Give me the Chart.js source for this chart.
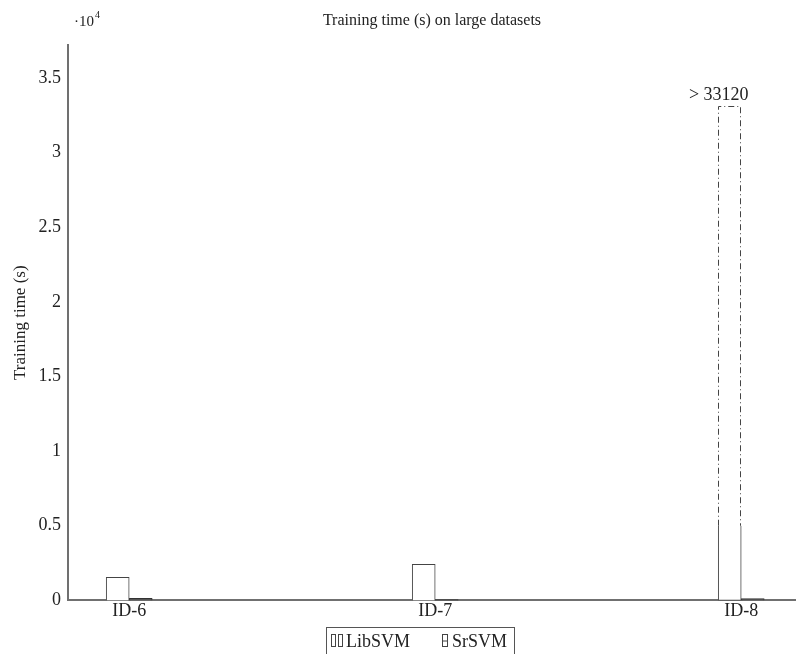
<!DOCTYPE html>
<html>
<head>
<meta charset="utf-8">
<script src="https://cdn.jsdelivr.net/npm/chart.js@4"></script>
<style>
  html, body { margin: 0; padding: 0; background: #fff; }
  #wrap { width: 796px; height: 654px; }
</style>
</head>
<body>
<div id="wrap"><canvas id="trainChart"></canvas></div>
<script>
// Data
const categories = ["ID-6", "ID-7", "ID-8"];
const libsvmTimes = [1540, 2420, 5000];      // solid part of the LibSVM bars
const libsvmCutoff = [null, null, 33120];    // run stopped, lower bound drawn dashed
const srsvmTimes = [140, 50, 120];
const yTicks = [0, 5000, 10000, 15000, 20000, 25000, 30000, 35000];
const yMax = 37200;

const serif = "'Liberation Serif', 'DejaVu Serif', serif";
const axisGray = "#707070";
const barEdge = "#444";
const textColor = "#222";

Chart.defaults.font.family = serif;
Chart.defaults.color = textColor;

// dashed outline for the "cut" bar (v4 bars fill their borders, so stroke by hand)
const dashedBars = {
    id: "dashedBars",
    afterDatasetsDraw(chart) {
        const ctx = chart.ctx;
        chart.data.datasets.forEach((ds, i) => {
            if (!ds.dashed) return;
            chart.getDatasetMeta(i).data.forEach((el, j) => {
                const { x, y, base, width } = el.getProps(["x", "y", "base", "width"], true);
                const l = Math.round(x - width / 2) + 0.5, r = Math.round(x + width / 2) - 0.5;
                ctx.save();
                ctx.strokeStyle = barEdge;
                ctx.lineWidth = 1;
                ctx.setLineDash([6, 3, 1, 3]);
                ctx.beginPath();
                ctx.moveTo(l, base);
                ctx.lineTo(l, Math.round(y) + 0.5);
                ctx.lineTo(r, Math.round(y) + 0.5);
                ctx.lineTo(r, base);
                ctx.stroke();
                ctx.restore();
                // value label above the bar
                const v = libsvmCutoff[ds.data[j].x - 1];
                ctx.save();
                ctx.font = "18px " + serif;
                ctx.fillStyle = textColor;
                ctx.textAlign = "center";
                ctx.textBaseline = "bottom";
                ctx.fillText("> " + v, x - 11, y - 2);
                ctx.restore();
            });
        });
    },
};

// title over the plot area, exponent marker, framed legend
const decorations = {
    id: "decorations",
    afterDraw(chart) {
        const ctx = chart.ctx;
        const area = chart.chartArea;
        ctx.save();
        ctx.fillStyle = textColor;
        ctx.textBaseline = "alphabetic";
        ctx.font = "16px " + serif;
        ctx.textAlign = "center";
        ctx.fillText("Training time (s) on large datasets", (area.left + area.right) / 2, 25);

        ctx.textAlign = "left";
        ctx.font = "15px " + serif;
        ctx.fillText("\u00b710", area.left + 6, 26);
        const w = ctx.measureText("\u00b710").width;
        ctx.font = "10px " + serif;
        ctx.fillText("4", area.left + 6 + w + 1, 18);

        // legend
        const items = chart.data.datasets.filter(ds => !ds.dashed);
        ctx.font = "18px " + serif;
        const iconW = [13, 8];
        const widths = items.map((ds, i) => iconW[i] + 2 + ctx.measureText(ds.label).width);
        const gap = 32, padL = 5, padR = 7;
        const total = padL + widths.reduce((a, b) => a + b, 0) + gap * (items.length - 1) + padR;
        const centerX = 420;
        const top = 627, h = 30, midY = top + 14;
        let x = Math.round(centerX - total / 2);
        ctx.strokeStyle = "#555";
        ctx.lineWidth = 1;
        ctx.strokeRect(x + 0.5, top + 0.5, Math.round(total), h);
        x += padL;
        items.forEach((ds, i) => {
            ctx.strokeStyle = barEdge;
            if (i === 0) {
                ctx.strokeRect(x + 0.5, midY - 6.5, 4, 12);
                ctx.strokeRect(x + 7.5, midY - 6.5, 4, 12);
            } else {
                ctx.strokeRect(x + 0.5, midY - 6.5, 5, 12);
                ctx.beginPath();
                ctx.moveTo(x + 1, midY);
                ctx.lineTo(x + 5, midY);
                ctx.stroke();
            }
            ctx.fillStyle = textColor;
            ctx.textBaseline = "middle";
            ctx.fillText(ds.label, x + iconW[i] + 2, midY + 1);
            x += widths[i] + gap;
        });
        ctx.restore();
    },
};

function makeChart() {
    const ctx = document.getElementById("trainChart");

    const libData = libsvmTimes.map((v, i) => ({ x: i + 1, y: v }));
    const cutData = libsvmCutoff
        .map((v, i) => (v === null ? null : { x: i + 1, y: [libsvmTimes[i], v] }))
        .filter(d => d !== null);
    const srData = srsvmTimes.map((v, i) => ({ x: i + 1, y: v }));

    new Chart(ctx, {
        type: "bar",
        data: {
            datasets: [
                {
                    label: "LibSVM",
                    stack: "lib",
                    data: libData,
                    backgroundColor: "#fff",
                    borderColor: barEdge,
                    borderWidth: 1,
                    borderSkipped: (c) => (libsvmCutoff[c.dataIndex] !== null ? "top" : "bottom"),
                },
                {
                    label: "LibSVM cut",
                    stack: "lib",
                    dashed: true,
                    data: cutData,
                    backgroundColor: "rgba(255,255,255,0)",
                    borderWidth: 0,
                },
                {
                    label: "SrSVM",
                    stack: "sr",
                    data: srData,
                    backgroundColor: "#555",
                    borderColor: "#333",
                    borderWidth: 1,
                    borderSkipped: "bottom",
                },
            ],
        },
        options: {
            responsive: true,
            maintainAspectRatio: false,
            animation: false,
            barThickness: 23,
            layout: { padding: { top: 45, right: 0, left: 0, bottom: 32 } },
            plugins: {
                tooltip: { enabled: false },
                title: { display: false },
                legend: { display: false },
            },
            scales: {
                x: {
                    type: "linear",
                    min: 0.8,
                    max: 3.179,
                    offset: false,
                    grid: { display: false, drawTicks: false },
                    border: { display: true, color: axisGray, width: 2 },
                    afterBuildTicks: (axis) => {
                        axis.ticks = categories.map((_, i) => ({ value: i + 1 }));
                    },
                    ticks: {
                        padding: 0,
                        autoSkip: false,
                        maxRotation: 0,
                        font: { size: 18, family: serif },
                        color: textColor,
                        callback: (v) => categories[v - 1] ?? "",
                    },
                },
                y: {
                    stacked: false,
                    min: 0,
                    max: yMax,
                    grid: { display: false, drawTicks: false },
                    border: { display: true, color: axisGray, width: 2 },
                    afterBuildTicks: (axis) => {
                        axis.ticks = yTicks.map(v => ({ value: v }));
                    },
                    afterFit: (axis) => { axis.width = 68; },
                    ticks: {
                        padding: 7,
                        font: { size: 18, family: serif },
                        color: textColor,
                        callback: (v) => String(v / 10000),
                    },
                    title: {
                        display: true,
                        text: "Training time (s)",
                        font: { size: 17, family: serif },
                        color: textColor,
                        padding: { top: 10, bottom: 0 },
                    },
                },
            },
        },
        plugins: [dashedBars, decorations],
    });
}

makeChart();
</script>
</body>
</html>
